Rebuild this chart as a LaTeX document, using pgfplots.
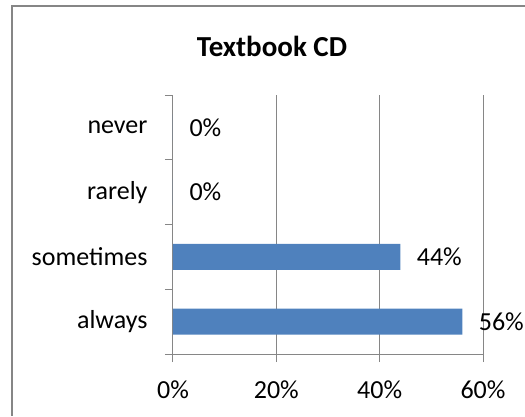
\documentclass[border=0pt]{standalone}
\usepackage{fontspec}
\setmainfont{Carlito}
\usepackage{pgfplots}
\pgfplotsset{compat=1.18}
\definecolor{barblue}{HTML}{4F81BD}
\definecolor{gridgray}{HTML}{868686}
\begin{document}
\begin{tikzpicture}[x=1pt,y=1pt]
\useasboundingbox (0,0) rectangle (525,416);
% outer chart frame, cut by the page on the right and bottom
\fill[gridgray] (11.25,0) rectangle (12.75,410.75);
\fill[gridgray] (11.25,409.25) rectangle (525,410.75);
\node[font=\bfseries\fontsize{29}{34}\selectfont] at (272,370) {Textbook CD};
\begin{axis}[
  at={(173pt,62pt)}, anchor=south west,
  scale only axis, width=310pt, height=259pt,
  xbar, bar width=26pt,
  xmin=0, xmax=60, ymin=-0.5, ymax=3.5,
  /pgf/number format/assume math mode=true,
  xtick={0,20,40,60},
  xticklabel={\pgfmathprintnumber{\tick}\%},
  xticklabel style={yshift=-15pt},
  ytick={-0.5,0.5,1.5,2.5,3.5}, yticklabels={},
  extra y ticks={0,1,2,3},
  extra y tick labels={always,sometimes,rarely,never},
  extra y tick style={major tick length=0pt, yticklabel style={xshift=-22pt}},
  tick label style={font=\fontsize{26}{30}\selectfont},
  axis lines=left, axis line style={-, gridgray, line width=1pt},
  xmajorgrids, grid style={gridgray, line width=1pt},
  tick align=outside, major tick length=8pt, tick style={gridgray, line width=1pt},
  nodes near coords={\pgfmathprintnumber{\pgfplotspointmeta}\%},
  nodes near coords style={font=\fontsize{26}{30}\selectfont, xshift=13pt},
  point meta=x,
  clip=false,
]
\addplot[fill=barblue, draw=none] coordinates {
  (56,0)
  (44,1)
  (0,2)
  (0,3)
};
\end{axis}
\end{tikzpicture}
\end{document}
